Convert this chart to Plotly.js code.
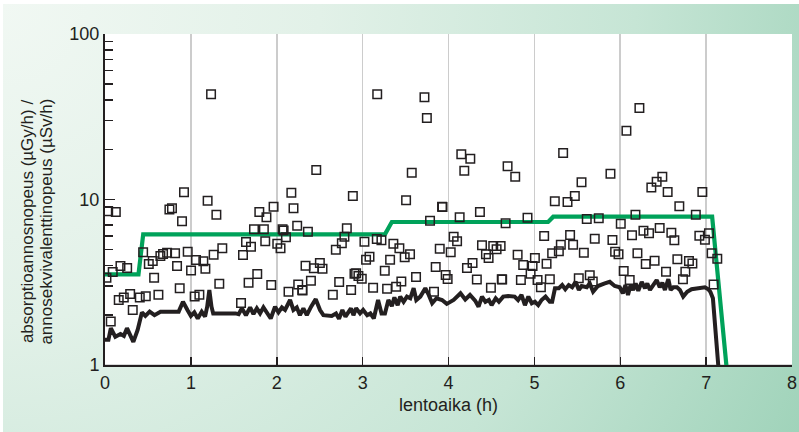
<!DOCTYPE html>
<html>
<head>
<meta charset="utf-8">
<script src="https://cdn.plot.ly/plotly-3.0.1.min.js"></script>
<style>
  html, body { margin: 0; padding: 0; background: #ffffff; }
  #wrap { position: relative; width: 799px; height: 432px; overflow: hidden; }
  #bg { position: absolute; left: 3px; top: 4px; right: 0; bottom: 0;
        background: radial-gradient(circle at 0% 0%, #f1f8f3 0%, #e2f1e8 35%, #c6e5d5 70%, #a0d3ba 100%); }
  #chart { position: absolute; left: 0; top: 0; width: 799px; height: 432px; }
</style>
</head>
<body>
<div id="wrap"><div id="bg"></div><div id="chart"></div></div>
<script>
// Measured individual dose-rate readings (open squares)
const sampleX = [
  1.235, 2.46, 3.17, 0.92, 1.195, 2.17, 2.886, 1.963, 2.195, 0.75, 0.78, 0.037, 0.126, 1.297, 1.797, 1.88,
  3.72, 3.748, 3.572, 4.149, 4.254, 4.184, 4.688, 4.777, 5.335, 5.549, 5.886, 5.471, 5.386, 5.238,
  6.223, 6.072, 6.362, 6.424, 6.49, 6.552, 6.956, 6.688, 3.506, 3.925, 3.93, 4.366, 4.13, 4.92, 6.177, 6.88,
  0.897, 0.444, 0.51, 0.556, 0.645, 0.676, 0.723, 0.816, 0.963, 0.839, 1.06, 1.145, 1.002, 1.169, 1.265, 1.366,
  0.017, 0.09, 0.18, 0.258, 0.572, 0.16, 0.219, 0.293, 0.405, 0.475, 0.622, 0.323, 0.067, 0.87, 1.044, 1.099, 1.331,
  2.238, 1.735, 1.85, 2.068, 2.08, 2.107, 2.363, 1.642, 1.70, 1.866, 2.006, 2.044, 1.607, 2.816, 2.788, 2.758, 2.688,
  2.335, 2.432, 2.502, 2.533, 1.773, 1.672, 1.936, 2.25, 2.297, 2.30, 2.398, 2.137, 2.727, 2.653, 2.866, 2.905, 1.584,
  3.785, 3.021, 3.165, 3.219, 3.358, 3.428, 3.552, 3.49, 3.32, 3.08, 3.04, 3.258, 2.924, 2.951, 2.99, 3.122, 3.285,
  3.39, 3.451, 3.622, 3.831, 3.898, 4.026, 4.06, 4.10, 3.851, 3.967, 3.99, 4.215, 4.28, 4.39, 4.33,
  4.665, 5.61, 5.75, 5.114, 5.416, 5.703, 4.521, 4.56, 4.607, 4.436, 4.467, 4.805, 4.87, 5.006, 4.979, 4.956,
  5.142, 5.207, 5.285, 5.308, 5.451, 5.576, 4.494, 4.62, 4.625, 4.843, 5.037, 5.18, 5.076, 5.517, 5.645, 5.68,
  6.006, 5.909, 6.137, 6.27, 6.335, 6.459, 6.595, 6.63, 6.921, 6.986, 7.033, 5.94, 5.98, 6.2, 6.297, 6.40,
  6.665, 6.80, 6.84, 7.064, 7.13, 6.04, 6.533, 6.758, 6.11, 6.73, 7.087
];
const sampleY = [
  43.2, 15.1, 43.3, 11.05, 9.84, 11.0, 10.5, 9.04, 8.85, 8.7, 8.85, 8.5, 8.4, 8.1, 8.4, 7.8,
  41.5, 31.1, 14.5, 18.8, 17.6, 14.9, 15.9, 13.7, 19.1, 12.7, 14.3, 10.5, 9.66, 9.75,
  35.7, 26.0, 11.8, 12.8, 13.7, 11.1, 11.1, 9.1, 9.9, 9.04, 9.0, 8.4, 7.8, 7.75, 8.1, 8.1,
  7.4, 4.80, 4.08, 4.25, 4.56, 4.69, 4.77, 4.73, 4.84, 3.96, 4.31, 4.23, 3.73, 3.82, 4.64, 5.07,
  3.37, 3.65, 3.96, 3.85, 3.37, 2.47, 2.56, 2.69, 2.56, 2.60, 2.66, 2.15, 1.83, 2.91, 2.59, 2.66, 3.10,
  6.95, 6.61, 6.61, 6.61, 6.5, 5.91, 6.39, 5.53, 5.18, 5.59, 5.41, 5.07, 4.62, 6.70, 5.96, 5.44, 4.97,
  3.98, 3.84, 4.13, 3.82, 3.55, 3.14, 3.04, 3.06, 2.84, 2.82, 3.23, 2.77, 3.17, 2.66, 2.84, 3.56, 2.37,
  7.45, 5.56, 5.77, 5.67, 5.41, 5.07, 4.67, 4.48, 4.33, 4.51, 4.33, 3.71, 3.58, 3.45, 3.32, 2.93, 2.89,
  2.97, 3.20, 3.40, 2.77, 5.04, 4.80, 5.96, 5.59, 3.91, 3.50, 3.31, 3.85, 4.13, 5.29, 3.28,
  7.18, 7.62, 7.70, 6.02, 6.10, 5.80, 5.24, 5.00, 5.24, 4.67, 4.43, 4.64, 4.02, 4.43, 3.96, 3.56,
  4.09, 4.73, 4.86, 5.33, 5.33, 4.77, 2.93, 3.30, 3.28, 3.26, 3.26, 3.30, 2.95, 3.34, 3.48, 3.19,
  7.14, 5.69, 6.08, 6.48, 6.25, 6.73, 6.30, 5.67, 6.04, 5.71, 6.25, 4.84, 4.67, 4.73, 4.08, 4.27,
  4.35, 4.25, 4.11, 4.73, 4.39, 3.70, 3.66, 3.66, 3.26, 3.30, 3.07
];

// Calculated dose rate along the flight (black line)
const calcX = [
  0, 0.04, 0.068, 0.12, 0.18, 0.22, 0.256, 0.302, 0.33, 0.38, 0.43, 0.47, 0.52, 0.576, 0.646, 0.858, 0.908,
  0.96, 1.0, 1.04, 1.08, 1.126, 1.165, 1.19, 1.215, 1.24, 1.26, 1.52, 1.556, 1.594, 1.641, 1.69, 1.729, 1.768,
  1.806, 1.845, 1.884, 1.93, 1.98, 2.02, 2.06, 2.097, 2.155, 2.194, 2.233, 2.27, 2.31, 2.35, 2.40, 2.454, 2.504,
  2.543, 2.64, 2.69, 2.725, 2.764, 2.80, 2.864, 2.893, 2.924, 2.97, 3.006, 3.053, 3.09, 3.13, 3.18, 3.22, 3.26,
  3.30, 3.34, 3.37, 3.408, 3.438, 3.477, 3.516, 3.555, 3.594, 3.625, 3.672, 3.73, 3.77, 3.81, 3.86, 3.925, 3.98,
  4.06, 4.14, 4.195, 4.25, 4.31, 4.35, 4.39, 4.43, 4.47, 4.502, 4.55, 4.587, 4.637, 4.695, 4.77, 4.81, 4.85,
  4.89, 4.93, 4.97, 5.006, 5.045, 5.084, 5.13, 5.18, 5.207, 5.24, 5.285, 5.324, 5.36, 5.40, 5.44, 5.48, 5.518,
  5.55, 5.61, 5.645, 5.684, 5.74, 5.82, 5.878, 5.936, 5.994, 6.03, 6.06, 6.09, 6.12, 6.15, 6.18, 6.21, 6.25,
  6.288, 6.315, 6.346, 6.385, 6.424, 6.46, 6.49, 6.52, 6.56, 6.587, 6.618, 6.66, 6.695, 6.733, 6.78, 6.83,
  6.89, 6.936, 6.986, 7.025, 7.049, 7.079, 7.14, 7.146
];
const calcY = [
  1.42, 1.42, 1.67, 1.48, 1.54, 1.50, 1.67, 1.48, 1.38, 1.63, 2.08, 1.98, 2.10, 2.0, 2.10, 2.10, 2.41,
  2.15, 1.98, 2.08, 1.91, 2.10, 1.96, 2.25, 2.84, 2.25, 2.05, 2.05, 2.03, 2.20, 2.00, 2.23, 2.03, 2.20,
  2.05, 2.23, 2.08, 1.91, 2.25, 2.08, 2.23, 2.15, 2.47, 2.15, 2.23, 2.00, 2.20, 2.00, 2.25, 2.50, 2.15,
  2.00, 1.98, 2.05, 1.90, 2.15, 1.96, 2.20, 2.00, 2.20, 2.05, 2.15, 2.00, 2.05, 1.91, 2.47, 2.05, 2.05,
  2.47, 2.27, 2.56, 2.30, 2.59, 2.41, 2.59, 2.53, 2.91, 2.47, 2.59, 2.91, 2.65, 2.36, 2.53, 2.47, 2.34,
  2.47, 2.71, 2.49, 2.65, 2.45, 2.25, 2.59, 2.41, 2.47, 2.30, 2.53, 2.41, 2.59, 2.61, 2.59, 2.47, 2.65,
  2.30, 2.59, 2.36, 2.41, 2.30, 2.47, 2.59, 2.41, 2.41, 2.91, 2.91, 3.04, 2.87, 3.04, 2.95, 3.18, 2.84,
  3.00, 2.95, 3.11, 2.77, 3.00, 3.11, 3.18, 3.00, 2.95, 2.71, 3.04, 2.65, 3.04, 2.84, 3.11, 2.81, 3.18,
  2.91, 3.11, 2.84, 3.04, 3.26, 2.95, 3.14, 2.84, 3.30, 2.84, 2.95, 2.95, 2.84, 2.59, 2.77, 2.87,
  2.91, 2.91, 2.95, 2.87, 2.77, 2.53, 1.0, 0.93
];

// Route-averaged dose rate (green step line)
const routeX = [0, 0.39, 0.445, 3.26, 3.34, 5.16, 5.22, 7.07, 7.244];
const routeY = [3.53, 3.53, 6.16, 6.16, 7.31, 7.31, 7.87, 7.87, 0.9];

const xTicks = [0, 1, 2, 3, 4, 5, 6, 7, 8];
const yTicks = [1, 10, 100];
const yTickText = ['1', '10', '100'];
const yMinorTicks = [];
[1, 10].forEach(d => { for (let k = 2; k <= 9; k++) yMinorTicks.push(d * k); });

const xTitle = 'lentoaika (h)';
const yTitleLines = ['absorptioannosnopeus (µGy/h) /', 'annosekvivalenttinopeus (µSv/h)'];

const ink = '#231f20';
const traces = [
  { x: routeX, y: routeY, type: 'scatter', mode: 'lines',
    line: { color: '#00a25a', width: 4.2 }, hoverinfo: 'skip' },
  { x: calcX, y: calcY, type: 'scatter', mode: 'lines',
    line: { color: ink, width: 4 }, hoverinfo: 'skip' },
  { x: sampleX, y: sampleY, type: 'scatter', mode: 'markers',
    marker: { symbol: 'square-open', size: 8.5, color: ink, line: { color: ink, width: 1.5 } },
    hoverinfo: 'skip' }
];

const titleCentersPx = [27.5, 46];
const annotations = yTitleLines.map((t, i) => ({
  text: t, xref: 'paper', yref: 'paper',
  x: (titleCentersPx[i] - 104.5) / 688, y: (365 - 222) / 331,
  xanchor: 'center', yanchor: 'middle', textangle: -90, showarrow: false,
  font: { size: 17, color: ink }
}));

const layout = {
  width: 799, height: 432,
  margin: { l: 104.5, r: 6.5, t: 34, b: 67 },
  paper_bgcolor: 'rgba(0,0,0,0)',
  plot_bgcolor: '#ffffff',
  showlegend: false,
  font: { family: 'Liberation Sans, Arial, sans-serif', color: ink },
  xaxis: {
    range: [0, 8], tickmode: 'array', tickvals: xTicks,
    ticks: 'inside', ticklen: 8, tickwidth: 1.5, tickcolor: ink,
    showline: true, linecolor: ink, linewidth: 2,
    showgrid: true, gridcolor: '#cccccc', gridwidth: 1.6,
    zeroline: false,
    tickfont: { size: 18, color: ink },
    title: { text: xTitle, font: { size: 18, color: ink }, standoff: 7 }
  },
  yaxis: {
    type: 'log', range: [0, 2],
    tickmode: 'array', tickvals: yTicks, ticktext: yTickText,
    ticks: 'inside', ticklen: 10, tickwidth: 1.5, tickcolor: ink,
    showline: true, linecolor: ink, linewidth: 2,
    showgrid: false, zeroline: false,
    tickfont: { size: 18, color: ink },
    minor: { tickmode: 'array', tickvals: yMinorTicks, ticks: 'inside', ticklen: 8,
             tickwidth: 1.5, tickcolor: ink, showgrid: false }
  },
  shapes: [
    { type: 'line', xref: 'paper', x0: 0, x1: 1, yref: 'y', y0: 1, y1: 1,
      line: { color: '#cccccc', width: 1.6 }, layer: 'below' }
  ],
  annotations: annotations
};

Plotly.newPlot('chart', traces, layout, { displayModeBar: false, staticPlot: true });
</script>
</body>
</html>
